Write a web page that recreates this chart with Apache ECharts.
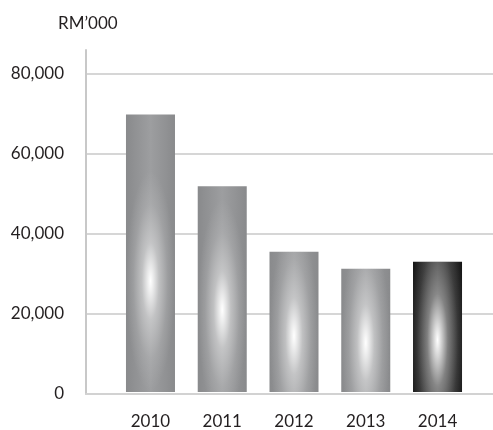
<!DOCTYPE html>
<html>
<head>
<meta charset="utf-8">
<script src="https://cdn.jsdelivr.net/npm/echarts@6/dist/echarts.min.js"></script>
<style>
  html, body { margin: 0; padding: 0; background: #fff; }
  #chart { width: 493px; height: 430px; }
</style>
</head>
<body>
<div id="chart"></div>
<script>
var years = ['2010', '2011', '2012', '2013', '2014'];
var values = [69750, 51750, 35250, 31000, 32750];
var yTicks = [0, 20000, 40000, 60000, 80000];
var yMax = 86000;

var FONT = 'Lato';
var TEXT = '#231f20';

function fmt(v) {
    return String(v).replace(/\B(?=(\d{3})+(?!\d))/g, ',');
}

// grey bars, the last one is dark
function barColors(dark) {
    if (dark) {
        return { edge: '#141414', mid: '#3a3a3a' };
    }
    return { edge: '#898a8c', mid: '#9d9ea0' };
}

function renderBar(params, api) {
    var i = api.value(0);
    var top = api.coord([i, api.value(1)]);
    var base = api.coord([i, 0]);
    var w = api.size([1, 0])[0] * 0.683;
    var x = top[0] - w / 2;
    var h = base[1] - top[1];
    var dark = i === years.length - 1;
    var c = barColors(dark);
    var s = 4.5;                     // vertical stretch of the highlight
    var cy = top[1] + h * 0.6;
    var rx = w * (dark ? 0.6 : 0.5);
    return {
        type: 'group',
        children: [
            {
                type: 'rect',
                shape: { x: x, y: top[1], width: w, height: h },
                style: {
                    fill: new echarts.graphic.LinearGradient(0, 0, 1, 0, [
                        { offset: 0, color: c.edge },
                        { offset: 0.5, color: c.mid },
                        { offset: 1, color: c.edge }
                    ])
                }
            },
            {
                type: 'rect',
                scaleY: s,
                shape: { x: x, y: top[1] / s, width: w, height: h / s },
                style: {
                    fill: new echarts.graphic.RadialGradient(top[0], cy / s, rx, [
                        { offset: 0, color: 'rgba(255,255,255,1)' },
                        { offset: 0.12, color: 'rgba(255,255,255,0.8)' },
                        { offset: 0.35, color: 'rgba(255,255,255,0.4)' },
                        { offset: 0.7, color: 'rgba(255,255,255,0.12)' },
                        { offset: 1, color: 'rgba(255,255,255,0)' }
                    ], true)
                }
            }
        ]
    };
}

var chart = echarts.init(document.getElementById('chart'));

chart.setOption({
    animation: false,
    textStyle: { fontFamily: FONT },
    graphic: [{
        type: 'text',
        left: 58,
        top: 15,
        style: { text: 'RM\u2019000', fill: TEXT, font: '17px ' + FONT }
    }],
    grid: [
        { left: 86, right: 0, top: 50, bottom: 36 },
        { left: 114.6, right: 19.6, top: 50, bottom: 36 }
    ],
    xAxis: [
        {
            gridIndex: 0,
            type: 'value',
            min: 0,
            max: 1,
            axisLine: { show: true, lineStyle: { color: '#d2d2d2', width: 2 } },
            axisTick: { show: false },
            axisLabel: { show: false },
            splitLine: { show: false }
        },
        {
            gridIndex: 1,
            type: 'category',
            data: years,
            axisLine: { show: false },
            axisTick: { show: false },
            axisLabel: { margin: 21, color: TEXT, fontSize: 17, fontFamily: FONT }
        }
    ],
    yAxis: [
        {
            gridIndex: 0,
            type: 'value',
            min: yTicks[0],
            max: yMax,
            interval: yTicks[1] - yTicks[0],
            axisLine: { show: true, lineStyle: { color: '#c8c8c8', width: 2 } },
            axisTick: { show: false },
            axisLabel: {
                margin: 22,
                color: TEXT,
                fontSize: 17,
                fontFamily: FONT,
                showMaxLabel: false,
                formatter: function (v) { return fmt(v); }
            },
            splitLine: {
                show: true,
                showMaxLine: false,
                lineStyle: { color: '#c8c8c8', width: 1.5 }
            }
        },
        {
            gridIndex: 1,
            type: 'value',
            min: yTicks[0],
            max: yMax,
            show: false
        }
    ],
    series: [{
        type: 'custom',
        xAxisIndex: 1,
        yAxisIndex: 1,
        renderItem: renderBar,
        data: values.map(function (v, i) { return [i, v]; }),
        encode: { x: 0, y: 1 }
    }]
});
</script>
</body>
</html>
